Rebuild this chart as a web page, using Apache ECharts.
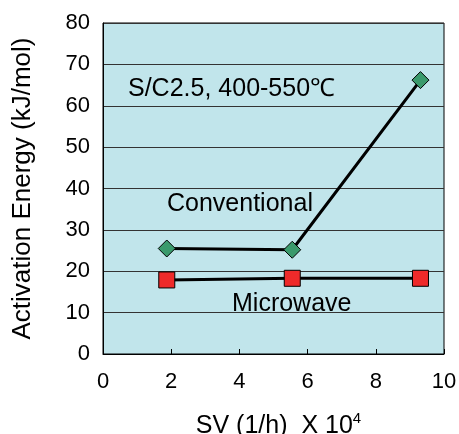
<!DOCTYPE html>
<html><head><meta charset="utf-8">
<script src="https://cdn.jsdelivr.net/npm/echarts@6/dist/echarts.min.js"></script>
<style>html,body{margin:0;padding:0;background:#fff}#c{width:459px;height:434px}</style>
</head><body><div id="c"></div>
<script>
const sv = [1.87, 5.55, 9.31];
const conventional = [25.5, 25.2, 66.2];
const microwave = [17.9, 18.3, 18.3];
const xTicks = [0, 2, 4, 6, 8, 10];
const yTicks = [0, 10, 20, 30, 40, 50, 60, 70, 80];
const seriesNames = ['Conventional', 'Microwave'];
const annotation = 'S/C2.5, 400-550\u2103';

const chart = echarts.init(document.getElementById('c'));
const font = 'Liberation Sans, Arial, sans-serif';
chart.setOption({
  animation: false,
  grid: {left: 103, top: 23, width: 341, height: 331, show: true, outerBoundsMode: 'none', containLabel: false,
         backgroundColor: '#c1e5eb', borderColor: '#000', borderWidth: 1},
  xAxis: {
    type: 'value', min: xTicks[0], max: xTicks[xTicks.length-1], interval: 2,
    name: 'SV (1/h)  X 10{sup|4}', nameLocation: 'middle', nameGap: 57,
    nameTextStyle: {fontFamily: font, fontSize: 25, color: '#000', padding: [0,0,0,10],
      rich: {sup: {fontSize: 15, verticalAlign: 'top', padding: [0,0,16,0], fontFamily: font, color:'#000'}}},
    axisLine: {show: true, lineStyle: {color: '#000', width: 1}},
    axisTick: {show: true, inside: true, length: 5, lineStyle: {color: '#000'}},
    axisLabel: {fontFamily: font, fontSize: 22, color: '#000', margin: 17},
    splitLine: {show: false}
  },
  yAxis: {
    type: 'value', min: yTicks[0], max: yTicks[yTicks.length-1], interval: 10,
    name: 'Activation Energy (kJ/mol)', nameLocation: 'middle', nameGap: 67,
    nameTextStyle: {fontFamily: font, fontSize: 26, color: '#000'},
    axisLine: {show: true, lineStyle: {color: '#000', width: 1}},
    axisTick: {show: false},
    axisLabel: {fontFamily: font, fontSize: 22, color: '#000', margin: 13},
    splitLine: {show: true, lineStyle: {color: '#333', width: 1}}
  },
  series: [
    {name: seriesNames[0], type: 'line', data: sv.map((x,i)=>[x, conventional[i]]),
     symbol: 'diamond', symbolSize: 17, lineStyle: {color: '#000', width: 3},
     itemStyle: {color: '#3a9a6c', borderColor: '#000', borderWidth: 1}, z: 3},
    {name: seriesNames[1], type: 'line', data: sv.map((x,i)=>[x, microwave[i]]),
     symbol: 'rect', symbolSize: 16, lineStyle: {color: '#000', width: 3},
     itemStyle: {color: '#ee2a2a', borderColor: '#000', borderWidth: 1}, z: 3}
  ],
  graphic: [
    {type: 'text', left: 128, top: 77, style: {text: annotation, font: '25px ' + font, fill: '#000'}},
    {type: 'text', left: 167, top: 192, style: {text: seriesNames[0], font: '25px ' + font, fill: '#000'}},
    {type: 'text', left: 232, top: 292, style: {text: seriesNames[1], font: '25px ' + font, fill: '#000'}}
  ]
});
</script></body></html>
